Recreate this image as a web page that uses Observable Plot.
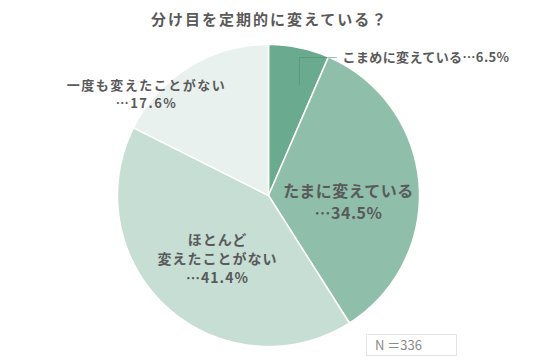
<!DOCTYPE html>
<html><head><meta charset="utf-8">
<script src="https://cdn.jsdelivr.net/npm/d3@7"></script>
<script src="https://cdn.jsdelivr.net/npm/@observablehq/plot@0.6"></script>
<style>
body{margin:0;background:#fff;font-family:"Noto Sans CJK JP","Noto Sans",sans-serif;}
#wrap{position:relative;width:536px;height:363px;}
#nbox{position:absolute;left:366px;top:334px;width:91px;height:22px;border:1px solid #e4e4e4;box-sizing:border-box;color:#8a8a8a;font-size:13px;line-height:20px;padding-left:8px;font-family:"Noto Sans CJK JP",sans-serif;}
</style></head>
<body><div id="wrap"><div id="chart"></div><div id="nbox">N ＝336</div></div>
<script>
const title = "分け目を定期的に変えている？";
const categories = ["こまめに変えている", "たまに変えている", "ほとんど変えたことがない", "一度も変えたことがない"];
const values = [6.5, 34.5, 41.4, 17.6];
const colors = ["#6aab8f", "#8fbfaa", "#c6ded4", "#e8f1ed"];

const W = 536, H = 363, cx = 268, cy = 195, R = 151;
const arcs = d3.pie().sort(null).value(d => d)(values);
const pts = [];
arcs.forEach((a, i) => {
  pts.push({k: i, x: cx, y: cy});
  const n = Math.max(4, Math.ceil((a.endAngle - a.startAngle) * 60));
  for (let j = 0; j <= n; j++) {
    const t = a.startAngle + (a.endAngle - a.startAngle) * j / n;
    pts.push({k: i, x: cx + R * Math.sin(t), y: cy - R * Math.cos(t)});
  }
  pts.push({k: i, x: cx, y: cy});
});

const labels = [
  {x: 342, y: 57, t: `${categories[0]}…${values[0]}%`, a: "start", s: 13, ls: 0.4},
  {x: 348, y: 191, t: categories[1], a: "middle", s: 16, ls: 0.5},
  {x: 348, y: 213, t: `…${values[1]}%`, a: "middle", s: 16, ls: 0.5},
  {x: 217, y: 240, t: "ほとんど", a: "middle", s: 14, ls: 1},
  {x: 217, y: 259, t: "変えたことがない", a: "middle", s: 14, ls: 1},
  {x: 217, y: 278, t: `…${values[2]}%`, a: "middle", s: 14, ls: 1},
  {x: 146, y: 85, t: categories[3], a: "middle", s: 13, ls: 1.5},
  {x: 146, y: 103, t: `…${values[3]}%`, a: "middle", s: 13, ls: 1.5}
];
const leader = [{x: 299, y: 84}, {x: 299, y: 57}, {x: 336, y: 57}];

const textMarks = labels.map((d, i) => Plot.text([d], {x: "x", y: "y", text: "t", textAnchor: d.a, fontSize: d.s, fontWeight: "bold", fill: "#5a5a5a", className: "ls" + Math.round(d.ls * 10)}));

const plot = Plot.plot({
  width: W, height: H, margin: 0,
  x: {domain: [0, W], range: [0, W], axis: null},
  y: {domain: [0, H], range: [0, H], axis: null},
  style: {fontFamily: '"Noto Sans CJK JP", sans-serif', background: "#fff"},
  marks: [
    Plot.line(pts, {x: "x", y: "y", z: "k", fill: d => colors[d.k], stroke: "#fff", strokeWidth: 1.5, strokeLinejoin: "round"}),
    Plot.line(leader, {x: "x", y: "y", stroke: "#4f8c72", strokeOpacity: 0.55, strokeWidth: 1}),
    ...textMarks,
    Plot.text([title], {x: () => cx + 1, y: () => 20, text: d => d, fontSize: 15, fontWeight: "bold", fill: "#5a5a5a", className: "ls20"})
  ]
});
d3.select(plot).selectAll("g[class^='ls'], g[class*=' ls']").each(function() {
  const m = this.getAttribute("class").match(/ls(\d+)/);
  if (m) d3.select(this).style("letter-spacing", (+m[1] / 10) + "px");
});
document.getElementById("chart").appendChild(plot);
</script></body></html>
